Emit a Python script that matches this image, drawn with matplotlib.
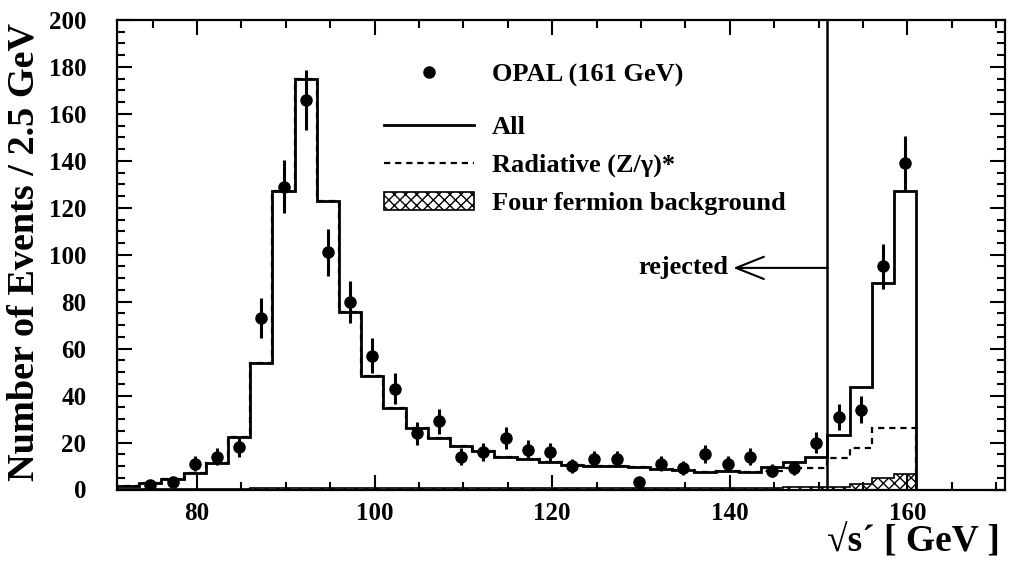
import numpy as np
import matplotlib
matplotlib.use("Agg")
import matplotlib.pyplot as plt
from matplotlib.lines import Line2D
from matplotlib.ticker import MultipleLocator

plt.rcParams['font.family'] = ['Liberation Serif', 'DejaVu Serif']
plt.rcParams['font.weight'] = 'bold'
plt.rcParams['axes.labelweight'] = 'bold'
plt.rcParams['hatch.linewidth'] = 1.0

# 2.5 GeV bins, 71 -> 161 GeV
edges = np.arange(71.0, 161.1, 2.5)
centres = 0.5 * (edges[:-1] + edges[1:])

# OPAL events per bin
opal = [0, 2, 3, 11, 14, 18, 73, 129, 166, 101, 80, 57,
        43, 24, 29, 14, 16, 22, 17, 16, 10, 13, 13, 3,
        11, 9, 15, 11, 14, 8, 9, 20, 31, 34, 95, 139]

# Monte Carlo: all contributions
mc_all = [1.5, 2.6, 4.5, 7.0, 11.3, 22.5, 54.0, 127.0, 175.0, 123.0, 75.5, 48.3,
          34.6, 26.3, 21.8, 18.7, 16.5, 14.0, 12.9, 11.6, 10.4, 10.0, 10.2, 9.4,
          8.7, 8.3, 7.6, 7.9, 7.6, 9.4, 11.8, 14.0, 23.2, 43.5, 88.0, 127.0]

# radiative (Z/gamma)* part
mc_rad = [1.5, 2.6, 4.5, 7.0, 11.3, 22.5, 54.0, 127.0, 175.0, 123.0, 75.5, 48.3,
          34.6, 26.3, 21.8, 18.7, 16.5, 14.0, 12.9, 11.6, 10.4, 10.0, 10.2, 9.4,
          8.7, 8.3, 7.6, 7.9, 7.3, 8.0, 9.0, 9.0, 13.3, 17.5, 26.3, 26.3]

# four fermion background
mc_4f = [0.2, 0.2, 0.2, 0.2, 0.2, 0.4, 0.5, 0.5, 0.5, 0.5, 0.5, 0.5,
         0.5, 0.5, 0.5, 0.5, 0.5, 0.5, 0.5, 0.5, 0.5, 0.5, 0.5, 0.5,
         0.5, 0.5, 0.5, 0.5, 0.6, 0.8, 1.0, 1.2, 1.2, 2.2, 4.8, 6.8]

cut = 151.0  # sqrt(s') rejection cut

opal = np.array(opal, dtype=float)
shown = opal > 0

fig = plt.figure(figsize=(10.09, 5.65), dpi=100)
ax = fig.add_axes([117 / 1009, 1 - 489.5 / 565, 888 / 1009, 469.5 / 565])

bg = ax.stairs(mc_4f, edges, fill=True, facecolor='white', edgecolor='black',
               hatch='xxx', lw=1.2, label='Four fermion background')
rad = ax.stairs(mc_rad, edges, color='black', lw=1.6, linestyle=(0, (2.8, 2.2)),
                label='Radiative (Z/γ)*')
tot = ax.stairs(mc_all, edges, color='black', lw=2.0, label='All')

ax.errorbar(centres[shown], opal[shown], yerr=np.sqrt(opal[shown]), fmt='o',
            color='black', ms=8, elinewidth=2.2, capsize=0, zorder=5)

ax.axvline(cut, color='black', lw=1.8)
ax.annotate('', xy=(140.4, 94.4), xytext=(cut, 94.4),
            arrowprops=dict(arrowstyle='->,head_length=2.0,head_width=0.8',
                            lw=1.5, color='black', shrinkA=0, shrinkB=0,
                            mutation_scale=10))
ax.text(139.8, 94.4, 'rejected', ha='right', va='center', fontsize=19)

ax.set_xlim(71, 171)
ax.set_ylim(0, 200)
ax.xaxis.set_major_locator(MultipleLocator(20))
ax.xaxis.set_minor_locator(MultipleLocator(5))
ax.yaxis.set_major_locator(MultipleLocator(20))
ax.yaxis.set_minor_locator(MultipleLocator(5))
ax.tick_params(which='both', direction='in', top=True, right=True, width=1.5)
ax.tick_params(which='major', length=11, labelsize=18)
ax.tick_params(which='minor', length=5.5)
ax.tick_params(axis='y', pad=22)
ax.tick_params(axis='x', pad=9)
for s in ax.spines.values():
    s.set_linewidth(1.6)

ax.set_ylabel('Number of Events / 2.5 GeV', fontsize=27.5, va='center')
ax.yaxis.set_label_coords(-0.105, 0.506)
fig.text(1000 / 1009, 6 / 565, '√s´ [ GeV ]', ha='right', va='bottom', fontsize=27)

opal_handle = Line2D([], [], marker='o', ls='none', color='black', ms=8)
leg1 = ax.legend([opal_handle], ['OPAL (161 GeV)'], loc='upper left',
                 bbox_to_anchor=(0.3007, 0.908), frameon=False, fontsize=19,
                 handlelength=3.4, handletextpad=0.68, borderpad=0,
                 borderaxespad=0)
ax.add_artist(leg1)
ax.legend([tot, rad, bg], ['All', 'Radiative (Z/γ)*', 'Four fermion background'],
          loc='upper left', bbox_to_anchor=(0.3007, 0.797), frameon=False,
          fontsize=19, handlelength=3.4, handletextpad=0.68, borderpad=0,
          borderaxespad=0, labelspacing=0.55)

fig.savefig('out.png', dpi=100)
